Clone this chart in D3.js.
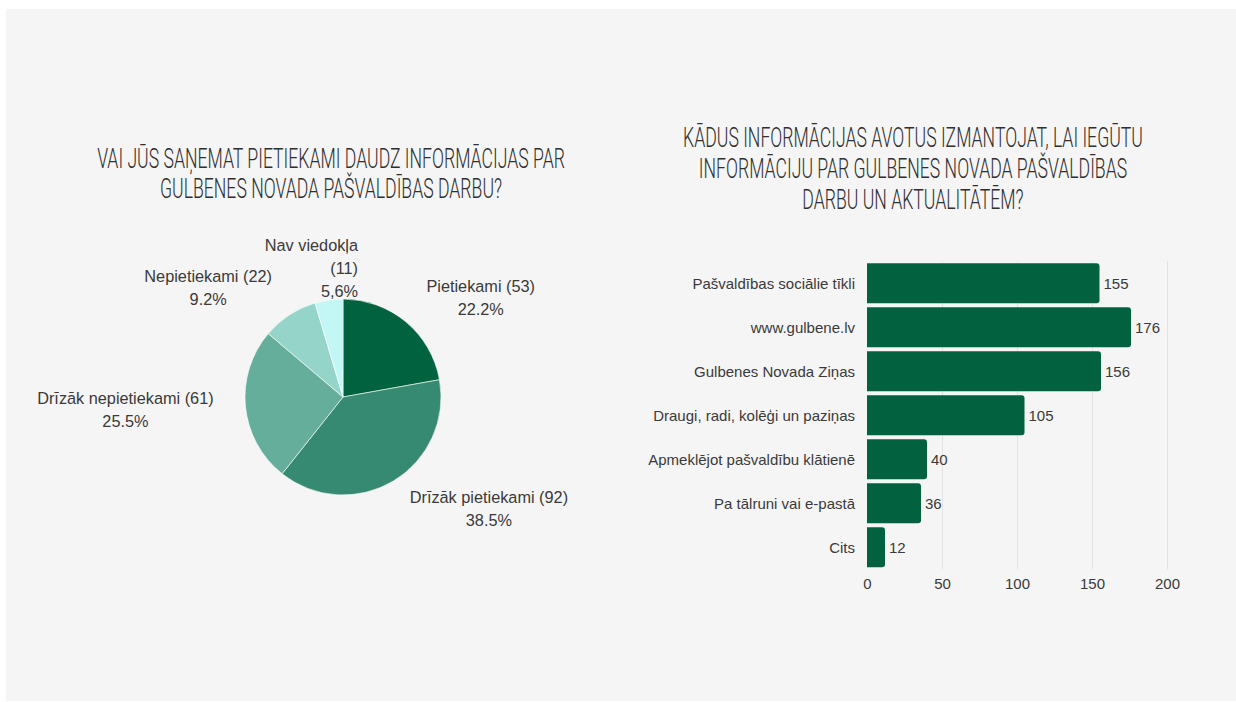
<!DOCTYPE html>
<html>
<head>
<meta charset="utf-8">
<script src="https://cdn.jsdelivr.net/npm/d3@7"></script>
<style>
  body { margin: 0; background: #ffffff; }
  svg { display: block; }
</style>
</head>
<body>
<svg id="chart" width="1236" height="702"></svg>
<script>
// ---- data ----
const pieTitleLines = [
  "VAI JŪS SAŅEMAT PIETIEKAMI DAUDZ INFORMĀCIJAS PAR",
  "GULBENES NOVADA PAŠVALDĪBAS DARBU?"
];
const pieCategories = ["Pietiekami", "Drīzāk pietiekami", "Drīzāk nepietiekami", "Nepietiekami", "Nav viedokļa"];
const pieValues = [53, 92, 61, 22, 11];
const piePercentLabels = ["22.2%", "38.5%", "25.5%", "9.2%", "5,6%"];
const pieColors = ["#00623f", "#368a71", "#65ae9b", "#94d4c9", "#c3f7f5"];

const barTitleLines = [
  "KĀDUS INFORMĀCIJAS AVOTUS IZMANTOJAT, LAI IEGŪTU",
  "INFORMĀCIJU PAR GULBENES NOVADA PAŠVALDĪBAS",
  "DARBU UN AKTUALITĀTĒM?"
];
const barCategories = [
  "Pašvaldības sociālie tīkli",
  "www.gulbene.lv",
  "Gulbenes Novada Ziņas",
  "Draugi, radi, kolēģi un paziņas",
  "Apmeklējot pašvaldību klātienē",
  "Pa tālruni vai e-pastā",
  "Cits"
];
const barValues = [155, 176, 156, 105, 40, 36, 12];
const barTicks = [0, 50, 100, 150, 200];

// ---- layout ----
const svg = d3.select("#chart");
const FONT = "'Liberation Sans', Arial, sans-serif";
const TITLE_FONT = "Roboto, 'Liberation Sans', sans-serif";
const TEXT = "#3a3a3a";

svg.append("rect")
  .attr("x", 6).attr("y", 9).attr("width", 1230).attr("height", 692)
  .attr("fill", "#f5f5f5");

// Condensed uppercase titles: a regular face squeezed horizontally
function drawTitle(lines, cx, baselines, k) {
  const t = svg.append("text")
    .attr("class", "title")
    .attr("transform", `translate(${cx},0) scale(${k},1)`)
    .attr("text-anchor", "middle")
    .attr("font-family", TITLE_FONT)
    .attr("font-weight", 300)
    .attr("font-size", 28)
    .attr("fill", "#2f2f2f");
  lines.forEach((ln, i) => {
    t.append("tspan").attr("x", 0).attr("y", baselines[i]).text(ln);
  });
}
// measure the widest line to get the squeeze factor
const probe = svg.append("text")
  .attr("font-family", TITLE_FONT).attr("font-size", 28).attr("font-weight", 300)
  .text(pieTitleLines[0]);
const squeeze = 468 / probe.node().getComputedTextLength();
probe.remove();

drawTitle(pieTitleLines, 331, [168, 198], squeeze);
drawTitle(barTitleLines, 913, [147, 178, 209], squeeze);

// ---- pie ----
const cx = 343, cy = 397, R = 98, labelR = 130;
const pie = d3.pie().sort(null).value(d => d.value);
const arcs = pie(pieCategories.map((c, i) => ({ name: c, value: pieValues[i], pct: piePercentLabels[i], color: pieColors[i] })));
const arc = d3.arc().innerRadius(0).outerRadius(R);

const pg = svg.append("g").attr("transform", `translate(${cx},${cy})`);
pg.selectAll("path").data(arcs).join("path")
  .attr("d", arc)
  .attr("fill", d => d.data.color)
  .attr("stroke", "#ffffff")
  .attr("stroke-width", 0.6);

const lineH = 23;
arcs.forEach(d => {
  const a = (d.startAngle + d.endAngle) / 2;
  const s = Math.sin(a), c = Math.cos(a);
  let ax = labelR * s, ay = -labelR * c;
  let anchor, lines;
  if (Math.abs(s) < 0.3) {
    // near the top: wrap and right-align just past the centre line
    anchor = "end";
    ax = 15;
    lines = [d.data.name, `(${d.data.value})`, d.data.pct];
  } else {
    anchor = s > 0 ? "start" : "end";
    lines = [`${d.data.name} (${d.data.value})`, d.data.pct];
  }
  const top = ay - (lines.length - 1) * lineH / 2;
  const t = pg.append("text")
    .attr("font-family", FONT).attr("font-size", 16.3).attr("fill", TEXT);
  lines.forEach((ln, i) => {
    t.append("tspan")
      .attr("x", ax)
      .attr("y", top + i * lineH)
      .attr("dy", "0.35em")
      .attr("text-anchor", anchor)
      .text(ln);
  });
  // the percentage sits centred under the name line for side labels
  if (lines.length === 2) {
    const w = t.select("tspan").node().getComputedTextLength();
    const mid = anchor === "start" ? ax + w / 2 : ax - w / 2;
    t.selectAll("tspan").filter((_, i) => i === 1)
      .attr("x", mid).attr("text-anchor", "middle");
  }
});

// ---- bars ----
const x = d3.scaleLinear().domain([0, 200]).range([867, 1167]);
const y = d3.scaleBand().domain(barCategories).range([261.3, 569.3])
  .paddingInner(0.09).paddingOuter(0.045);

const gridAxis = d3.axisBottom(x).tickValues(barTicks.slice(1))
  .tickSize(-(y.range()[1] - y.range()[0])).tickFormat("");
svg.append("g").attr("transform", `translate(0,${y.range()[1]})`)
  .call(gridAxis)
  .call(g => g.select(".domain").remove())
  .call(g => g.selectAll("line").attr("stroke", "#e3e3e3"));

svg.append("g").selectAll("path").data(barValues).join("path")
  .attr("fill", "#02623f")
  .attr("d", (v, i) => {
    const x0 = x(0), x1 = x(v), y0 = y(barCategories[i]), h = y.bandwidth(), r = 3;
    return `M${x0},${y0}H${x1 - r}Q${x1},${y0} ${x1},${y0 + r}V${y0 + h - r}Q${x1},${y0 + h} ${x1 - r},${y0 + h}H${x0}Z`;
  });

svg.append("g").selectAll("text").data(barValues).join("text")
  .attr("x", v => x(v) + 4)
  .attr("y", (v, i) => y(barCategories[i]) + y.bandwidth() / 2)
  .attr("dy", "0.35em")
  .attr("font-family", FONT).attr("font-size", 15).attr("fill", TEXT)
  .text(v => v);

svg.append("g").selectAll("text").data(barCategories).join("text")
  .attr("x", 855)
  .attr("y", d => y(d) + y.bandwidth() / 2)
  .attr("dy", "0.35em")
  .attr("text-anchor", "end")
  .attr("font-family", FONT).attr("font-size", 15).attr("fill", TEXT)
  .text(d => d);

const xAxis = d3.axisBottom(x).tickValues(barTicks).tickSize(0).tickPadding(9);
svg.append("g").attr("transform", `translate(0,${y.range()[1]})`)
  .call(xAxis)
  .call(g => g.select(".domain").remove())
  .call(g => g.selectAll("text").attr("font-family", FONT).attr("font-size", 15).attr("fill", TEXT));
</script>
</body>
</html>
